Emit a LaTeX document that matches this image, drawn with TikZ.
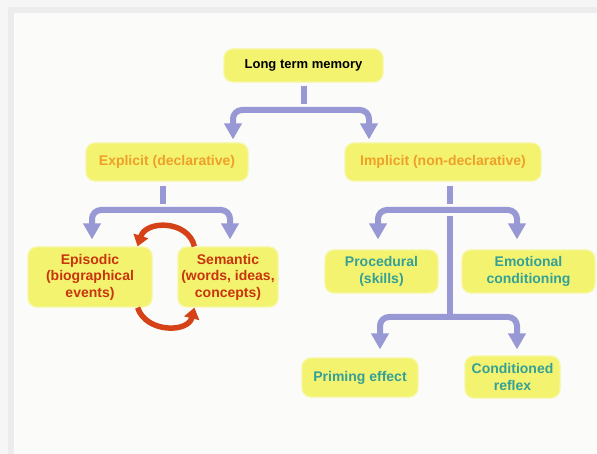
\documentclass[tikz,border=0pt]{standalone}
\usepackage{fontspec}
\setmainfont{Liberation Sans}
\usetikzlibrary{arrows.meta}
\definecolor{boxyellow}{RGB}{243,243,112}
\definecolor{boxedge}{RGB}{247,247,160}
\definecolor{lavender}{RGB}{152,152,212}
\definecolor{loopred}{RGB}{214,66,24}
\definecolor{txtorange}{RGB}{238,160,40}
\definecolor{txtred}{RGB}{200,52,12}
\definecolor{txtteal}{RGB}{52,160,150}
\definecolor{panel}{RGB}{251,251,249}

\begin{document}
\begin{tikzpicture}[x=1pt, y=1pt,
	memo/.style={draw=boxedge, line width=1.2pt, fill=boxyellow, rounded corners=9pt,
		align=center, inner sep=2pt, font=\fontsize{14}{16.5}\selectfont\bfseries},
	stemline/.style={line width=6pt, color=lavender},
	fork/.style={line width=6pt, color=lavender, rounded corners=9pt,
		-{Triangle[width=17pt,length=16pt]}},
	swap/.style={line width=5.5pt, color=loopred,
		-{Triangle[width=15pt,length=11pt]}}]
			%%%%% START %%%%%
			\useasboundingbox (0,0) rectangle (597,-454);
			\fill[gray!7] (0,0) rectangle (597,-454);
			\fill[gray!15] (8,-7) rectangle (597,-454);
			\fill[panel] (14,-13) rectangle (597,-454);
			
			\node[memo, minimum width=159pt, minimum height=33pt, font=\fontsize{13}{16}\selectfont\bfseries] (ltm) at (303.5,-65.5) {Long term memory};
			
			\node[memo, minimum width=162pt, minimum height=38pt, text=txtorange] (expl) at (167,-162) {Explicit (declarative)};
			\node[memo, minimum width=196pt, minimum height=38pt, text=txtorange] (impl) at (443,-162) {Implicit (non-declarative)};
			
			\node[memo, minimum width=124pt, minimum height=60pt, text=txtred] (epis) at (90,-277) {Episodic\\(biographical\\events)};
			\node[memo, minimum width=100pt, minimum height=60pt, text=txtred] (sem) at (228,-277) {Semantic\\(words, ideas,\\concepts)};
			
			\node[memo, minimum width=113pt, minimum height=43pt, text=txtteal] (proc) at (381.5,-271.5) {Procedural\\(skills)};
			\node[memo, minimum width=133pt, minimum height=43pt, text=txtteal] (emot) at (528.5,-271.5) {Emotional\\conditioning};
			
			\node[memo, minimum width=116pt, minimum height=39pt, text=txtteal] (prim) at (360,-377.5) {Priming effect};
			\node[memo, minimum width=95pt, minimum height=42pt, text=txtteal] (cond) at (512.5,-377) {Conditioned\\reflex};
			
			% long term memory -> explicit / implicit
			\coordinate (ltm-j) at (303,-110);
			\draw[stemline] ([yshift=-3pt]ltm.south) -- ++(0,-18);
			\draw[fork] (ltm-j) -| ([xshift=66pt,yshift=3pt]expl.north);
			\draw[fork] (ltm-j) -| ([xshift=-74pt,yshift=3pt]impl.north);
			
			% explicit -> episodic / semantic
			\coordinate (expl-j) at (163,-210);
			\draw[stemline] ([xshift=-4pt,yshift=-4pt]expl.south) -- ++(0,-18);
			\draw[fork] (expl-j) -| ([xshift=2pt,yshift=7pt]epis.north);
			\draw[fork] (expl-j) -| ([xshift=2pt,yshift=7pt]sem.north);
			
			\draw[swap] ([xshift=17pt]sem.north west) .. controls (188,-220) and (146,-220) .. ([xshift=-15pt]epis.north east);
			\draw[swap] ([xshift=-15pt]epis.south east) .. controls (146,-333) and (188,-333) .. ([xshift=17pt]sem.south west);
			
			% implicit -> procedural / emotional
			\coordinate (impl-j) at (450,-210);
			\draw[stemline] ([xshift=7pt,yshift=-4pt]impl.south) -- ++(0,-18);
			\draw[fork] (impl-j) -| ([xshift=-3.5pt,yshift=10pt]proc.north);
			\draw[fork] (impl-j) -| ([xshift=-11.5pt,yshift=10pt]emot.north);
			
			% implicit -> priming / conditioned
			\coordinate (impl-k) at (450,-317);
			\draw[stemline] ([xshift=7pt,yshift=-34pt]impl.south) -- (impl-k);
			\draw[fork] (impl-k) -| ([xshift=20pt,yshift=8pt]prim.north);
			\draw[fork] (impl-k) -| ([xshift=4.5pt,yshift=6pt]cond.north);
			
			%%%%% END %%%%%
\end{tikzpicture}
\end{document}
